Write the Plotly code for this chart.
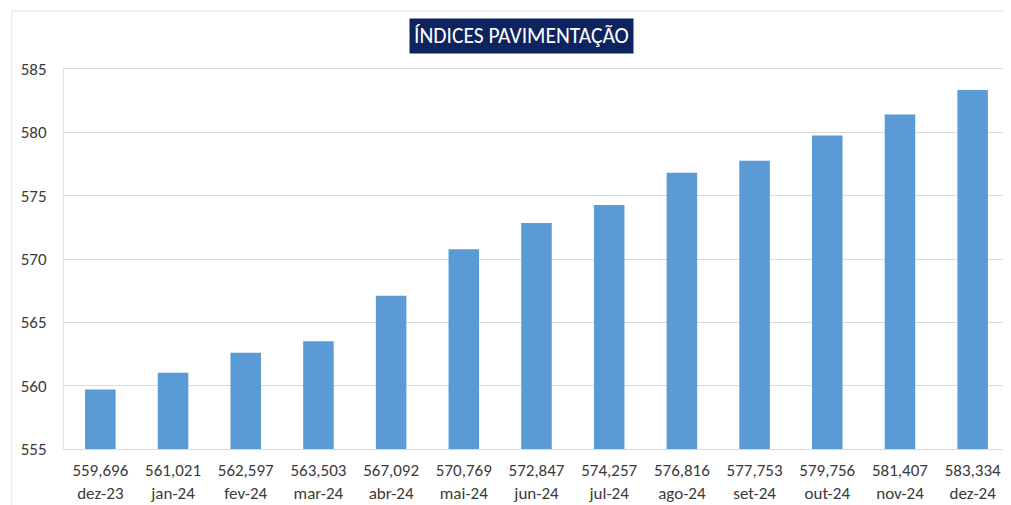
import plotly.graph_objects as go

months = ["dez-23", "jan-24", "fev-24", "mar-24", "abr-24", "mai-24", "jun-24",
          "jul-24", "ago-24", "set-24", "out-24", "nov-24", "dez-24"]
values = [559.696, 561.021, 562.597, 563.503, 567.092, 570.769, 572.847,
          574.257, 576.816, 577.753, 579.756, 581.407, 583.334]
y_ticks = [555, 560, 565, 570, 575, 580, 585]
title_text = "ÍNDICES PAVIMENTAÇÃO"

labels = [f"{v:.3f}".replace(".", ",") + "<br>" + m for v, m in zip(values, months)]

FONT = "Carlito, Lato, Liberation Sans, Arial"

fig = go.Figure(go.Bar(x=labels, y=values, marker_color="#5B9BD5",
                       marker_line_width=0))

fig.update_layout(
    width=1003, height=497,
    margin=dict(l=56, r=2, t=61, b=56),
    paper_bgcolor="white", plot_bgcolor="white",
    bargap=0.58,
    showlegend=False,
    font=dict(family=FONT, color="#3a3a3a", size=17),
)
fig.update_yaxes(range=[555, 585], tickvals=y_ticks, showgrid=True,
                 gridcolor="#d9d9d9", gridwidth=1, zeroline=False,
                 showline=True, linecolor="#e6e6e6", mirror=True,
                 ticks="", ticklabelstandoff=13, tickfont=dict(size=17, color="#3a3a3a"))
fig.update_xaxes(showline=True, linecolor="#d9d9d9", mirror=True, ticks="",
                 ticklabelstandoff=6,
                 tickfont=dict(size=17, color="#3a3a3a"), tickangle=0)

fig.add_annotation(xref="paper", yref="paper", x=0.4846, y=1.0, yshift=33,
                   xanchor="center", yanchor="middle",
                   text=title_text, showarrow=False,
                   font=dict(size=21.5, color="white", family=FONT),
                   bgcolor="#0E2461", borderpad=4)

fig.add_shape(type="rect", xref="paper", yref="paper", x0=-0.0553, x1=1.003,
              y0=-0.2, y1=1.1526, line=dict(color="#e3e3e3", width=1), layer="below")

fig.write_html("out.html")
